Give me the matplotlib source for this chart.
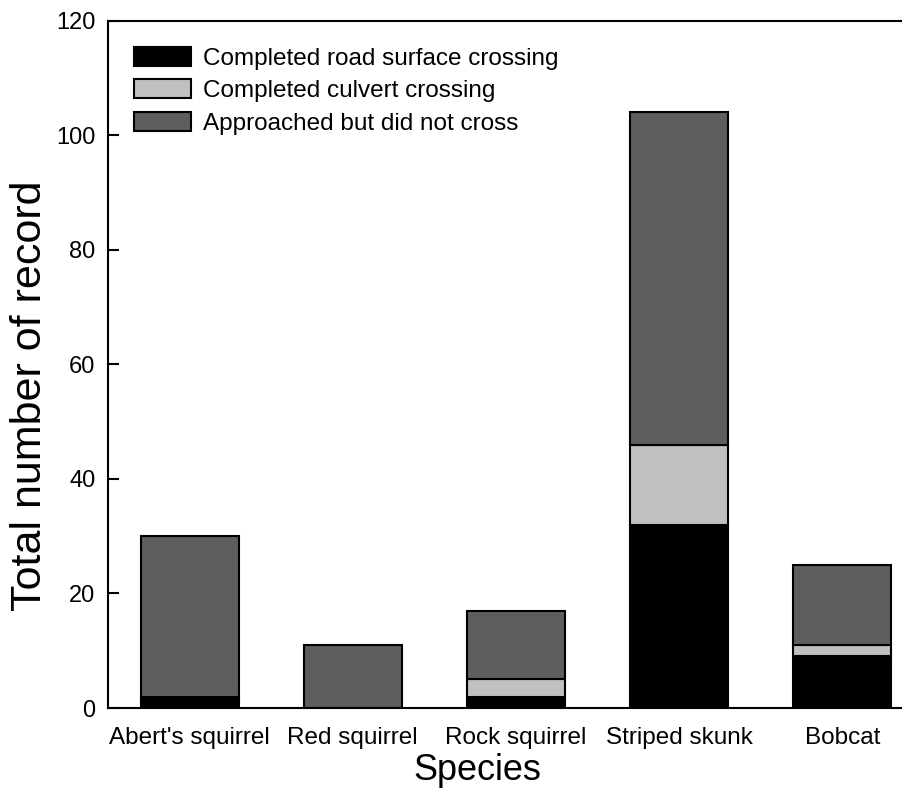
import matplotlib
matplotlib.use("Agg")
import matplotlib.pyplot as plt
import numpy as np

plt.rcParams['font.family'] = ['Liberation Sans', 'DejaVu Sans']

species = ["Abert's squirrel", "Red squirrel", "Rock squirrel", "Striped skunk", "Bobcat"]
road_crossing = [2, 0, 2, 32, 9]
culvert_crossing = [0, 0, 3, 14, 2]
no_cross = [28, 11, 12, 58, 14]

labels = ["Completed road surface crossing", "Completed culvert crossing",
          "Approached but did not cross"]
colors = ["#000000", "#c0c0c0", "#5e5e5e"]

fig = plt.figure(figsize=(9.03, 7.91), dpi=100)
ax = fig.add_axes([0.1196, 0.1049, 0.9037, 0.8689])

x = np.arange(len(species))
bottom = np.zeros(len(species))
for vals, lab, col in zip([road_crossing, culvert_crossing, no_cross], labels, colors):
    ax.bar(x, vals, 0.6, bottom=bottom, color=col, edgecolor="black",
           linewidth=1.5, label=lab)
    bottom += np.array(vals)

ax.set_xlim(-0.5, 4.5)
ax.set_ylim(0, 120)
ax.set_yticks(range(0, 121, 20))
ax.set_xticks(x)
ax.set_xticklabels(species)
ax.tick_params(axis="x", length=0, pad=14, labelsize=17.5)
ax.tick_params(axis="y", direction="in", length=8, width=1.5, pad=9, labelsize=17)
for s in ax.spines.values():
    s.set_linewidth(1.5)
ax.spines["right"].set_visible(False)

ax.set_xlabel("Species", fontsize=26)
ax.set_ylabel("Total number of record", fontsize=31)
ax.xaxis.set_label_coords(0.453, -0.065)
ax.yaxis.set_label_coords(-0.071, 0.455)

ax.legend(loc="upper left", bbox_to_anchor=(0.032, 0.962), frameon=False,
          fontsize=17.5, handlelength=2.35, handleheight=0.82, handletextpad=0.5,
          labelspacing=0.4, borderpad=0, borderaxespad=0)

fig.savefig("out.png", dpi=100)
